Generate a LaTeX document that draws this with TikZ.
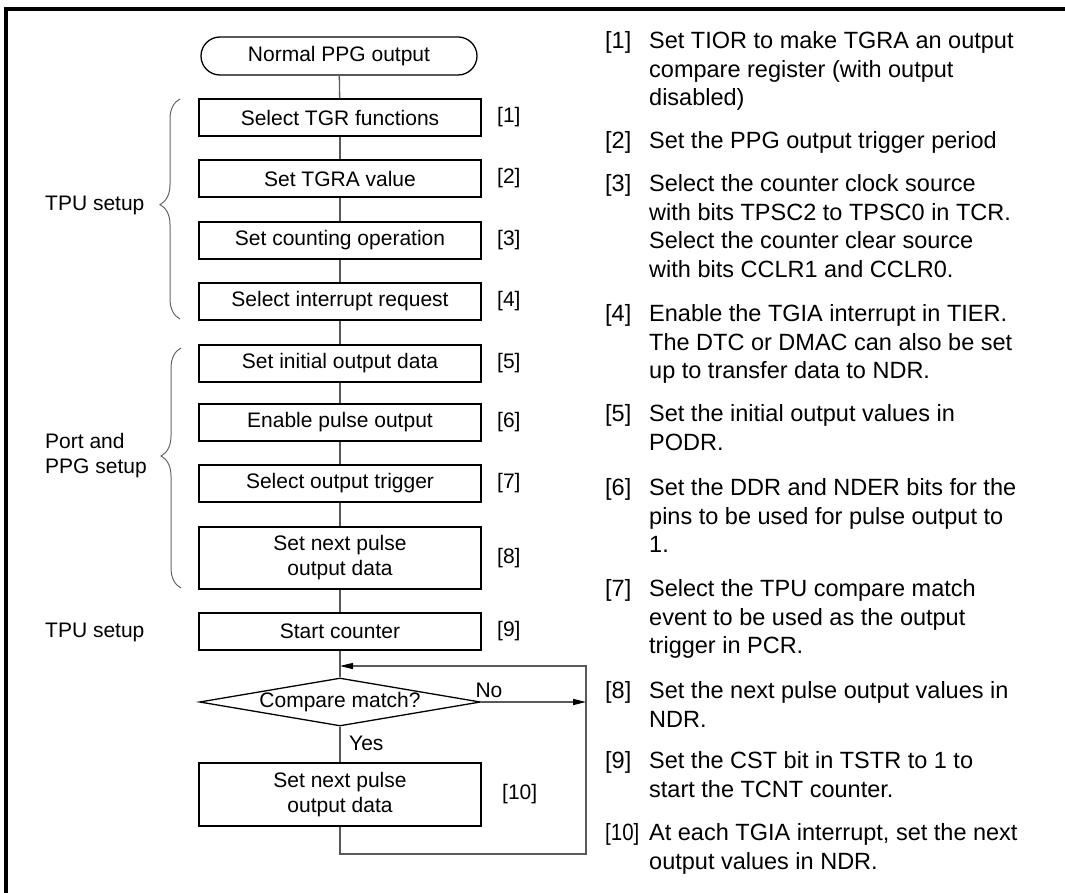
\documentclass[tikz,border=0pt]{standalone}
\usepackage{fontspec}
\setmainfont{Liberation Sans}
\usetikzlibrary{decorations.pathreplacing,shapes.geometric,arrows.meta}
\begin{document}
\begin{tikzpicture}[x=1pt,y=-1pt,
  lfont/.style={font=\fontsize{21}{25}\selectfont},
  rfont/.style={font=\fontsize{23.5}{28.5}\selectfont},
  box/.style={draw=black,line width=1.3pt,rectangle,minimum width=282,minimum height=37,inner sep=0,lfont,align=center},
  conn/.style={draw=black!65,line width=1.3pt},
  tip/.style={-{Triangle[length=13pt,width=6pt,color=black]}},
  num/.style={lfont,anchor=west,inner sep=0},
  side/.style={lfont,anchor=west,inner sep=0,align=left},
  brace/.style={draw=black!60,line width=1pt,decorate,decoration={brace,amplitude=20pt,aspect=#1}},
  rnum/.style={rfont,anchor=base west,inner sep=0},
  rtext/.style={rfont,anchor=north west,inner sep=0,align=left},
]
\useasboundingbox (0,0) rectangle (1065,893);
% frame
\draw[line width=3.5pt] (6,893) -- (6,9) -- (1065,9);

% flowchart
\node[draw=black,line width=1.3pt,rectangle,rounded corners=19pt,minimum width=276,minimum height=38,inner sep=0,lfont] (term) at (339,56) {Normal PPG output};
\node[box] (b1) at (340,117.5) {Select TGR functions};
\node[box] (b2) at (340,178.5) {Set TGRA value};
\node[box] (b3) at (340,240.5) {Set counting operation};
\node[box] (b4) at (340,301.5) {Select interrupt request};
\node[box] (b5) at (340,363.5) {Set initial output data};
\node[box] (b6) at (340,422.5) {Enable pulse output};
\node[box] (b7) at (340,483.5) {Select output trigger};
\node[box,minimum height=62] (b8) at (340,558) {Set next pulse\\output data};
\node[box] (b9) at (340,631.5) {Start counter};
\node[diamond,draw=black,line width=1.3pt,minimum width=281,minimum height=48,inner sep=0,
      label={[lfont]center:Compare match?}] (d) at (340,702) {};
\node[box,minimum height=63] (b10) at (340,794.5) {Set next pulse\\output data};

\coordinate (j) at (340,666);
\coordinate (rt) at (586,666);
\coordinate (rn) at (586,702);
\coordinate (rb) at (586,854);

\draw[conn] (term) -- (b1);
\draw[conn] (b1) -- (b2);
\draw[conn] (b2) -- (b3);
\draw[conn] (b3) -- (b4);
\draw[conn] (b4) -- (b5);
\draw[conn] (b5) -- (b6);
\draw[conn] (b6) -- (b7);
\draw[conn] (b7) -- (b8);
\draw[conn] (b8) -- (b9);
\draw[conn] (b9) -- (d);
\draw[conn] (d) -- (b10);
\draw[conn,tip] (b10.south) |- (rb) -- (rt) -- (j);
\draw[conn,tip] (d.east) -- (rn);

\node[lfont,inner sep=0] (no) at (489,690) {No};
\node[lfont,inner sep=0,anchor=west] (yes) at (349,743) {Yes};

% step numbers
\node[num] (n1) at (497,117.5) {[1]};
\node[num] (n2) at (497,178.5) {[2]};
\node[num] (n3) at (497,240.5) {[3]};
\node[num] (n4) at (497,301.5) {[4]};
\node[num] (n5) at (497,363.5) {[5]};
\node[num] (n6) at (497,422.5) {[6]};
\node[num] (n7) at (497,483.5) {[7]};
\node[num] (n8) at (497,558) {[8]};
\node[num] (n9) at (497,631.5) {[9]};
\node[num] (n10) at (502,794.5) {[10]};

% braces and group labels
\draw[brace=0.52] (180,319) -- (180,99);
\draw[brace=0.55] (181,588) -- (181,348);
\node[side] (g1) at (45,205) {TPU setup};
\node[side] (g2) at (45,456) {Port and\\PPG setup};
\node[side] (g3) at (45,632) {TPU setup};

% right column notes
\node[rnum] (r1l) at (605,48.4) {[1]};
\node[rtext] (r1) at (649,28.4) {\rule{0pt}{20pt}Set TIOR to make TGRA an output\\compare register (with output\\disabled)};
\node[rnum] (r2l) at (605,148.4) {[2]};
\node[rtext] (r2) at (649,128.4) {\rule{0pt}{20pt}Set the PPG output trigger period};
\node[rnum] (r3l) at (605,191.4) {[3]};
\node[rtext] (r3) at (649,171.4) {\rule{0pt}{20pt}Select the counter clock source\\with bits TPSC2 to TPSC0 in TCR.\\Select the counter clear source\\with bits CCLR1 and CCLR0.};
\node[rnum] (r4l) at (605,321.4) {[4]};
\node[rtext] (r4) at (649,301.4) {\rule{0pt}{20pt}Enable the TGIA interrupt in TIER.\\The DTC or DMAC can also be set\\up to transfer data to NDR.};
\node[rnum] (r5l) at (605,421.4) {[5]};
\node[rtext] (r5) at (649,401.4) {\rule{0pt}{20pt}Set the initial output values in\\PODR.};
\node[rnum] (r6l) at (605,495.4) {[6]};
\node[rtext] (r6) at (649,475.4) {\rule{0pt}{20pt}Set the DDR and NDER bits for the\\pins to be used for pulse output to\\1.};
\node[rnum] (r7l) at (605,596.4) {[7]};
\node[rtext] (r7) at (649,576.4) {\rule{0pt}{20pt}Select the TPU compare match\\event to be used as the output\\trigger in PCR.};
\node[rnum] (r8l) at (605,698.4) {[8]};
\node[rtext] (r8) at (649,678.4) {\rule{0pt}{20pt}Set the next pulse output values in\\NDR.};
\node[rnum] (r9l) at (605,768.4) {[9]};
\node[rtext] (r9) at (649,748.4) {\rule{0pt}{20pt}Set the CST bit in TSTR to 1 to\\start the TCNT counter.};
\node[rnum] (r10l) at (605,840.4) {\scalebox{0.87}[1]{[10]}};
\node[rtext] (r10) at (649,820.4) {\rule{0pt}{20pt}At each TGIA interrupt, set the next\\output values in NDR.};
\end{tikzpicture}
\end{document}
